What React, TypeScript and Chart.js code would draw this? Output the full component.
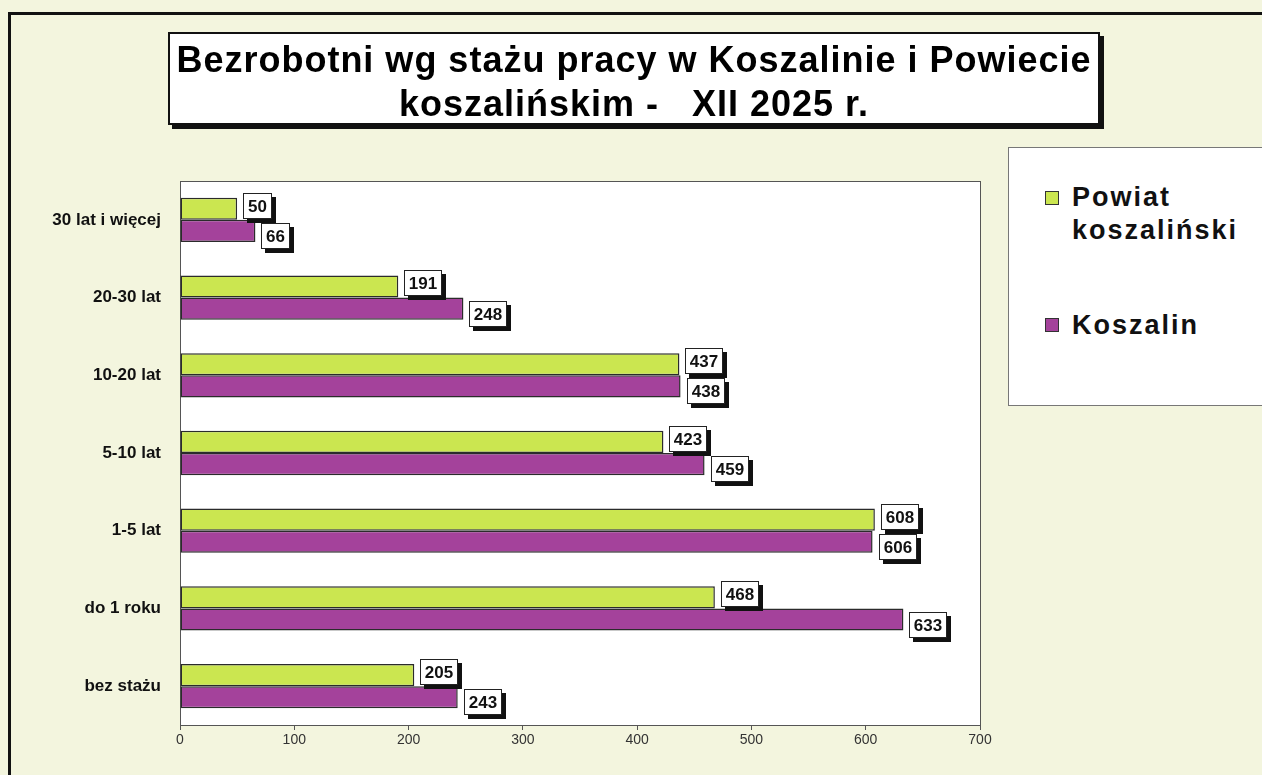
import React, { useEffect, useRef } from 'react';
import { Chart, registerables } from 'chart.js';

Chart.register(...registerables);

const categories = ['30 lat i więcej', '20-30 lat', '10-20 lat', '5-10 lat', '1-5 lat', 'do 1 roku', 'bez stażu'];
const powiatValues = [50, 191, 437, 423, 608, 468, 205];
const koszalinValues = [66, 248, 438, 459, 606, 633, 243];
const seriesNames = ['Powiat koszaliński', 'Koszalin'];
const seriesColors = ['#cbe650', '#a4429b'];
const titleLines = ['Bezrobotni wg stażu pracy w Koszalinie i Powiecie', 'koszalińskim -   XII 2025 r.'];
const xMin = 0;
const xMax = 700;
const xStep = 100;

const FONT = "'Liberation Sans', Arial, sans-serif";

const plotBgPlugin = {
  id: 'plotBg',
  beforeDatasetsDraw(chart: any) {
    const { ctx, chartArea } = chart;
    ctx.save();
    ctx.fillStyle = '#ffffff';
    ctx.fillRect(chartArea.left, chartArea.top, chartArea.right - chartArea.left, chartArea.bottom - chartArea.top);
    ctx.strokeStyle = '#555';
    ctx.lineWidth = 1;
    ctx.strokeRect(chartArea.left + 0.5, chartArea.top + 0.5, chartArea.right - chartArea.left, chartArea.bottom - chartArea.top);
    ctx.restore();
  },
};

const labelBoxPlugin = {
  id: 'labelBoxes',
  afterDatasetsDraw(chart: any) {
    const { ctx } = chart;
    ctx.save();
    ctx.font = `bold 17px ${FONT}`;
    ctx.textAlign = 'center';
    ctx.textBaseline = 'middle';
    chart.data.datasets.forEach((ds: any, di: number) => {
      const meta = chart.getDatasetMeta(di);
      meta.data.forEach((el: any, i: number) => {
        const txt = String(ds.data[i]);
        const tw = ctx.measureText(txt).width;
        const w = Math.round(tw + 10);
        const h = 26;
        const x0 = Math.round(el.x + 6);
        const yc = el.y + (di === 0 ? -3 : 5);
        const y0 = Math.round(yc - h / 2);
        ctx.fillStyle = '#111';
        ctx.fillRect(x0 + 4, y0 + 4, w, h);
        ctx.fillStyle = '#fff';
        ctx.fillRect(x0, y0, w, h);
        ctx.strokeStyle = '#222';
        ctx.lineWidth = 1;
        ctx.strokeRect(x0 + 0.5, y0 + 0.5, w - 1, h - 1);
        ctx.fillStyle = '#111';
        ctx.fillText(txt, x0 + w / 2, y0 + h / 2 + 1);
      });
    });
    ctx.restore();
  },
};

function ChartCanvas() {
  const ref = useRef<HTMLCanvasElement | null>(null);
  useEffect(() => {
    if (!ref.current) return;
    const chart = new Chart(ref.current, {
      type: 'bar',
      data: {
        labels: categories,
        datasets: [
          {
            label: seriesNames[0],
            data: powiatValues,
            backgroundColor: seriesColors[0],
            borderColor: '#2b2b2b',
            borderWidth: 1.5,
            borderSkipped: false,
            categoryPercentage: 0.57,
            barPercentage: 1,
          },
          {
            label: seriesNames[1],
            data: koszalinValues,
            backgroundColor: seriesColors[1],
            borderColor: '#2b2b2b',
            borderWidth: 1.5,
            borderSkipped: false,
            categoryPercentage: 0.57,
            barPercentage: 1,
          },
        ],
      },
      options: {
        indexAxis: 'y',
        animation: false,
        responsive: false,
        devicePixelRatio: 1,
        layout: { padding: { left: 0, top: 181, right: 282, bottom: 20 } },
        plugins: {
          legend: { display: false },
          title: { display: false },
          tooltip: { enabled: false },
        },
        scales: {
          x: {
            type: 'linear',
            min: xMin,
            max: xMax,
            ticks: {
              stepSize: xStep,
              padding: 2,
              color: '#333',
              font: { size: 14, family: FONT },
            },
            grid: { display: true, drawOnChartArea: false, drawTicks: true, tickLength: 5, color: '#555' },
            border: { display: false },
            afterFit(scale: any) {
              scale.height = 30;
            },
          },
          y: {
            type: 'category',
            ticks: {
              padding: 19,
              color: '#111',
              font: { size: 17, weight: 'bold', family: FONT },
            },
            grid: { display: false, drawTicks: false },
            border: { display: false },
            afterFit(scale: any) {
              scale.width = 180;
            },
          },
        },
      },
      plugins: [plotBgPlugin, labelBoxPlugin],
    } as any);
    return () => chart.destroy();
  }, []);
  return <canvas ref={ref} width={1262} height={775} style={{ position: 'absolute', left: 0, top: 0 }} />;
}

export default function App() {
  return (
    <div
      style={{
        position: 'absolute',
        left: 0,
        top: 0,
        width: 1262,
        height: 775,
        overflow: 'hidden',
        background: '#f3f5de',
        fontFamily: FONT,
      }}
    >
      <div
        style={{
          position: 'absolute',
          left: 8,
          top: 12,
          width: 1400,
          height: 900,
          borderLeft: '3px solid #111',
          borderTop: '3px solid #111',
        }}
      />
      <ChartCanvas />
      <div
        style={{
          position: 'absolute',
          left: 168,
          top: 32,
          width: 932,
          height: 93,
          boxSizing: 'border-box',
          border: '2px solid #111',
          background: '#fff',
          boxShadow: '4px 4px 0 #111',
        }}
      >
        <div
          style={{
            position: 'absolute',
            left: 0,
            right: 0,
            top: 4,
            fontSize: 36,
            lineHeight: '44px',
            letterSpacing: 1,
            fontWeight: 'bold',
            textAlign: 'center',
            whiteSpace: 'pre',
            color: '#000',
          }}
        >
          {titleLines[0]}
          {'\n'}
          {titleLines[1]}
        </div>
      </div>
      <div
        style={{
          position: 'absolute',
          left: 1008,
          top: 147,
          width: 300,
          height: 259,
          boxSizing: 'border-box',
          border: '1px solid #777',
          background: '#fff',
        }}
      />
      <div style={{ position: 'absolute', left: 1045, top: 191, width: 14, height: 14, boxSizing: 'border-box', border: '1px solid #333', background: seriesColors[0] }} />
      <div
        style={{
          position: 'absolute',
          left: 1072,
          top: 181,
          fontSize: 27,
          lineHeight: '33px',
          fontWeight: 'bold',
          letterSpacing: 2,
          whiteSpace: 'pre',
          color: '#111',
        }}
      >
        {'Powiat\nkoszaliński'}
      </div>
      <div style={{ position: 'absolute', left: 1045, top: 318, width: 14, height: 14, boxSizing: 'border-box', border: '1px solid #333', background: seriesColors[1] }} />
      <div
        style={{
          position: 'absolute',
          left: 1072,
          top: 309,
          fontSize: 27,
          lineHeight: '33px',
          fontWeight: 'bold',
          letterSpacing: 2,
          whiteSpace: 'pre',
          color: '#111',
        }}
      >
        {seriesNames[1]}
      </div>
    </div>
  );
}
